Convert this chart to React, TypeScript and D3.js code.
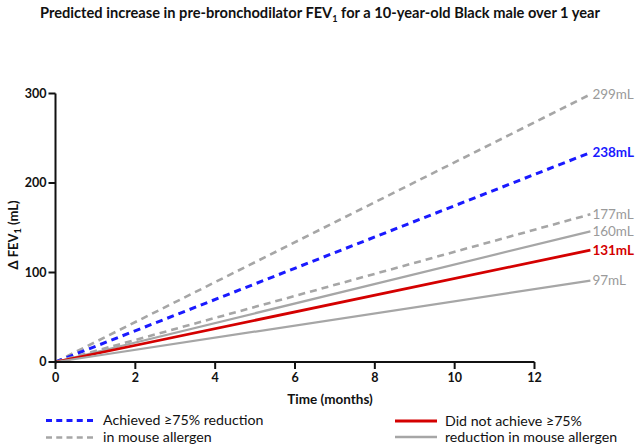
import React from "react";
import * as d3 from "d3";

const xTicks = [0, 2, 4, 6, 8, 10, 12];
const yTicks = [0, 100, 200, 300];
const seriesNames = ["achUpper", "achieved", "achLower", "notUpper", "notAchieved", "notLower"];
const endValues = [299, 234, 165, 146, 125, 91];
const endLabels = ["299mL", "238mL", "177mL", "160mL", "131mL", "97mL"];
const startMonth = 0;
const endMonth = 13.4;

const styles: Record<string, { color: string; dash: string | null; width: number; labelColor: string; bold: boolean }> = {
  achUpper: { color: "#a6a6a6", dash: "7,5", width: 2.6, labelColor: "#9a9a9a", bold: false },
  achieved: { color: "#1a1aff", dash: "7,5", width: 3, labelColor: "#1a1aff", bold: true },
  achLower: { color: "#a6a6a6", dash: "7,5", width: 2.6, labelColor: "#9a9a9a", bold: false },
  notUpper: { color: "#a6a6a6", dash: null, width: 2.2, labelColor: "#9a9a9a", bold: false },
  notAchieved: { color: "#d40000", dash: null, width: 2.8, labelColor: "#d40000", bold: true },
  notLower: { color: "#a6a6a6", dash: null, width: 2.2, labelColor: "#9a9a9a", bold: false },
};

const W = 640;
const H = 447;
const font = "Lato, 'Open Sans', sans-serif";

export default function App() {
  const x = d3.scaleLinear().domain([0, 12]).range([55.5, 534.5]);
  const y = d3.scaleLinear().domain([0, 300]).range([362, 93.5]);
  const line = d3
    .line<[number, number]>()
    .x((d) => x(d[0]))
    .y((d) => y(d[1]));

  return (
    <svg
      width={W}
      height={H}
      style={{ position: "absolute", left: 0, top: 0, background: "#fff" }}
      fontFamily={font}
    >
      <text
        x={320}
        y={18}
        textAnchor="middle"
        fontWeight={700}
        fontSize={14.5}
        fill="#111"
        textLength={560}
        lengthAdjust="spacingAndGlyphs"
      >
        Predicted increase in pre-bronchodilator FEV<tspan fontSize={9} dy={4}>1</tspan>
        <tspan dy={-4}> for a 10-year-old Black male over 1 year</tspan>
      </text>

      {/* series lines */}
      {seriesNames.map((name, i) => {
        const s = styles[name];
        const pts: [number, number][] = [
          [startMonth, 0],
          [endMonth, endValues[i]],
        ];
        return (
          <path
            key={name}
            d={line(pts) || ""}
            fill="none"
            stroke={s.color}
            strokeWidth={s.width}
            strokeDasharray={s.dash || undefined}
          />
        );
      })}
      {seriesNames.map((name, i) => {
        const s = styles[name];
        return (
          <text
            key={name + "l"}
            x={x(endMonth) + 2}
            y={y(endValues[i])}
            dy="0.35em"
            fontSize={13.5}
            fontWeight={s.bold ? 700 : 400}
            fill={s.labelColor}
          >
            {endLabels[i]}
          </text>
        );
      })}

      {/* axes */}
      <line x1={x(0)} x2={x(0)} y1={y(0)} y2={y(300)} stroke="#111" strokeWidth={2} />
      <line x1={x(0)} x2={x(12)} y1={y(0)} y2={y(0)} stroke="#111" strokeWidth={2} />
      {yTicks.map((t) => (
        <g key={"y" + t}>
          <line x1={x(0) - 7} x2={x(0)} y1={y(t)} y2={y(t)} stroke="#111" strokeWidth={2} />
          <text x={x(0) - 9} y={y(t)} dy="0.35em" textAnchor="end" fontSize={12.5} fontWeight={700} fill="#111">
            {t}
          </text>
        </g>
      ))}
      {xTicks.map((t) => (
        <g key={"x" + t}>
          <line x1={x(t)} x2={x(t)} y1={y(0)} y2={y(0) + 7} stroke="#111" strokeWidth={2} />
          <text x={x(t)} y={y(0) + 20} textAnchor="middle" fontSize={12.5} fontWeight={700} fill="#111">
            {t}
          </text>
        </g>
      ))}
      <text x={330} y={404} textAnchor="middle" fontSize={13.5} fontWeight={700} fill="#111">
        Time (months)
      </text>
      <text
        transform="translate(18,235) rotate(-90)"
        textAnchor="middle"
        fontSize={13}
        fontWeight={700}
        fill="#111"
      >
        Δ FEV<tspan fontSize={9} dy={3}>1</tspan>
        <tspan dy={-3}> (mL)</tspan>
      </text>

      {/* legend */}
      <line x1={46} x2={93} y1={420.5} y2={420.5} stroke={styles.achieved.color} strokeWidth={3} strokeDasharray="6,4.25" />
      <line x1={46} x2={93} y1={437.5} y2={437.5} stroke={styles.achUpper.color} strokeWidth={2.6} strokeDasharray="6,4.25" />
      <text x={103} y={420.5} dy="0.35em" fontSize={14.2} fill="#111">Achieved ≥75% reduction</text>
      <text x={103} y={437.5} dy="0.35em" fontSize={14.2} fill="#111">in mouse allergen</text>
      <line x1={395} x2={437} y1={421} y2={421} stroke={styles.notAchieved.color} strokeWidth={2.8} />
      <line x1={395} x2={437} y1={437} y2={437} stroke={styles.notUpper.color} strokeWidth={2.4} />
      <text x={445} y={421} dy="0.35em" fontSize={14.2} fill="#111">Did not achieve ≥75%</text>
      <text x={445} y={437} dy="0.35em" fontSize={14.2} fill="#111">reduction in mouse allergen</text>
    </svg>
  );
}
